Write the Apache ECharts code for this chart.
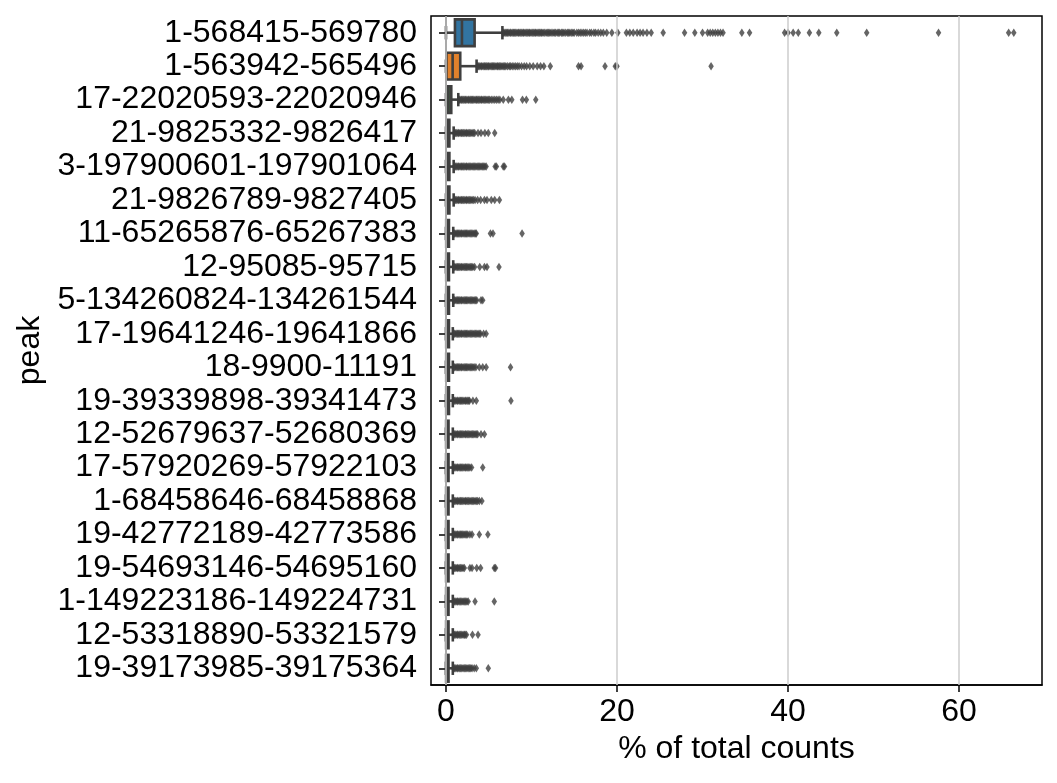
<!DOCTYPE html>
<html>
<head>
<meta charset="utf-8">
<script src="https://cdn.jsdelivr.net/npm/echarts@6/dist/echarts.min.js"></script>
<style>html,body{margin:0;padding:0;background:#fff}#c{width:1057px;height:783px}</style>
</head>
<body>
<div id="c"></div>
<script>
const categories = [
  '1-568415-569780','1-563942-565496','17-22020593-22020946','21-9825332-9826417',
  '3-197900601-197901064','21-9826789-9827405','11-65265876-65267383','12-95085-95715',
  '5-134260824-134261544','17-19641246-19641866','18-9900-11191','19-39339898-39341473',
  '12-52679637-52680369','17-57920269-57922103','1-68458646-68458868','19-42772189-42773586',
  '19-54693146-54695160','1-149223186-149224731','12-53318890-53321579','19-39173985-39175364'
];
// [min (whisker), q1, median, q3, max (whisker)]
const boxStats = [
  [0, 1.05, 1.87, 3.35, 6.6],
  [0, 0.05, 0.78, 1.67, 3.58],
  [0, 0.05, 0.3, 0.62, 1.44],
  [0, 0.05, 0.2, 0.4, 0.9],
  [0, 0.05, 0.2, 0.4, 0.9],
  [0, 0.05, 0.2, 0.4, 0.9],
  [0, 0.03, 0.15, 0.35, 0.85],
  [0, 0.03, 0.15, 0.35, 0.85],
  [0, 0.03, 0.15, 0.35, 0.85],
  [0, 0.03, 0.15, 0.35, 0.8],
  [0, 0.03, 0.15, 0.35, 0.8],
  [0, 0.03, 0.15, 0.35, 0.8],
  [0, 0.02, 0.1, 0.3, 0.8],
  [0, 0.02, 0.1, 0.3, 0.8],
  [0, 0.02, 0.1, 0.3, 0.8],
  [0, 0.02, 0.1, 0.3, 0.8],
  [0, 0.02, 0.1, 0.3, 0.8],
  [0, 0.02, 0.1, 0.3, 0.8],
  [0, 0.02, 0.1, 0.3, 0.8],
  [0, 0.02, 0.1, 0.3, 0.8]
];
const out0 = [6.7, 6.8, 6.95, 7.1, 7.2, 7.35, 7.5, 7.6, 7.75, 7.9, 8.0, 8.15, 8.3, 8.45, 8.55, 8.7, 8.85, 9.0, 9.1, 9.25, 9.4, 9.55, 9.7, 9.8, 9.95, 10.1, 10.25, 10.4, 10.5, 10.65, 10.8, 10.95, 11.1, 11.2, 11.35, 11.5, 11.7, 11.85, 12.0, 12.15, 12.3, 12.5, 12.65, 12.8, 13.0, 13.15, 13.3, 13.5, 13.65, 13.8, 14.0, 14.2, 14.35, 14.5, 14.7, 14.85, 15.0, 15.3, 15.5, 15.7, 15.9, 16.1, 16.3, 16.5, 16.8, 17.0, 17.3, 17.5, 17.8, 18.1, 18.4, 18.8, 19.4, 20.1, 21.1, 21.5, 21.9, 22.35, 22.7, 23.05, 23.5, 24.0, 25.4, 27.9, 29.1, 30.0, 30.6, 30.9, 31.2, 31.5, 31.8, 32.1, 32.4, 34.6, 35.5, 39.6, 40.0, 40.6, 41.2, 42.5, 43.6, 45.7, 49.2, 57.6, 65.8, 66.4];
const out1 = [3.7, 3.8, 3.95, 4.1, 4.2, 4.35, 4.5, 4.6, 4.75, 4.9, 5.0, 5.15, 5.3, 5.45, 5.55, 5.7, 5.85, 6.0, 6.1, 6.25, 6.4, 6.55, 6.7, 6.85, 7.0, 7.2, 7.4, 7.55, 7.75, 7.95, 8.15, 8.35, 8.55, 8.84, 9.15, 9.43, 9.8, 10.2, 10.67, 11.06, 11.45, 12.2, 15.5, 15.8, 18.6, 19.8, 20.0, 31.0];
const out2 = [1.55, 1.65, 1.8, 1.9, 2.05, 2.2, 2.3, 2.45, 2.6, 2.7, 2.85, 3.0, 3.1, 3.25, 3.4, 3.55, 3.65, 3.8, 3.95, 4.1, 4.2, 4.35, 4.5, 4.65, 4.8, 4.95, 5.1, 5.3, 5.5, 5.7, 5.9, 6.1, 6.3, 6.7, 7.3, 7.7, 8.95, 9.4, 10.5];
const out3 = [1.0, 1.1, 1.25, 1.4, 1.5, 1.65, 1.8, 1.9, 2.05, 2.2, 2.35, 2.45, 2.6, 2.75, 2.9, 3.05, 3.2, 3.35, 3.75, 4.1, 4.55, 4.95, 5.7];
const out4 = [1.0, 1.1, 1.25, 1.4, 1.5, 1.65, 1.8, 1.9, 2.05, 2.2, 2.35, 2.45, 2.6, 2.75, 2.9, 3.05, 3.2, 3.35, 3.5, 3.65, 3.8, 3.95, 4.1, 4.25, 4.4, 4.55, 4.7, 5.75, 5.9, 6.7, 6.85];
const out5 = [1.0, 1.1, 1.25, 1.4, 1.5, 1.65, 1.8, 1.9, 2.05, 2.2, 2.35, 2.45, 2.6, 2.75, 2.9, 3.05, 3.2, 3.4, 3.7, 4.05, 4.5, 4.8, 5.3, 5.7, 6.25];
const out6 = [0.95, 1.05, 1.2, 1.35, 1.45, 1.6, 1.75, 1.85, 2.0, 2.15, 2.3, 2.4, 2.55, 2.7, 2.85, 3.0, 3.15, 3.3, 3.45, 3.55, 5.2, 5.5, 8.9];
const out7 = [0.95, 1.05, 1.2, 1.35, 1.45, 1.6, 1.75, 1.85, 2.0, 2.15, 2.3, 2.4, 2.55, 2.7, 2.85, 3.0, 3.15, 3.35, 3.95, 4.5, 4.8, 6.2];
const out8 = [0.95, 1.05, 1.2, 1.35, 1.45, 1.6, 1.75, 1.85, 2.0, 2.15, 2.3, 2.4, 2.55, 2.7, 2.85, 3.0, 3.15, 3.3, 3.45, 3.6, 4.1, 4.3];
const out9 = [0.95, 1.05, 1.2, 1.35, 1.45, 1.6, 1.75, 1.85, 2.0, 2.15, 2.3, 2.4, 2.55, 2.7, 2.85, 3.0, 3.15, 3.3, 3.45, 3.6, 3.75, 3.9, 4.05, 4.4, 4.7];
const out10 = [0.95, 1.05, 1.2, 1.35, 1.45, 1.6, 1.75, 1.85, 2.0, 2.15, 2.3, 2.4, 2.55, 2.7, 2.85, 3.0, 3.15, 3.3, 3.5, 3.9, 4.3, 4.7, 7.55];
const out11 = [0.9, 1.0, 1.15, 1.3, 1.4, 1.55, 1.7, 1.8, 1.95, 2.1, 2.25, 2.35, 2.5, 2.65, 2.75, 3.15, 3.55, 7.6];
const out12 = [0.9, 1.0, 1.15, 1.3, 1.4, 1.55, 1.7, 1.8, 1.95, 2.1, 2.25, 2.35, 2.5, 2.65, 2.8, 2.95, 3.1, 3.25, 3.4, 3.55, 3.7, 4.1, 4.5];
const out13 = [0.9, 1.0, 1.15, 1.3, 1.4, 1.55, 1.7, 1.8, 1.95, 2.1, 2.25, 2.35, 2.5, 2.65, 2.8, 3.0, 4.3];
const out14 = [0.9, 1.0, 1.15, 1.3, 1.4, 1.55, 1.7, 1.8, 1.95, 2.1, 2.25, 2.35, 2.5, 2.65, 2.8, 2.95, 3.1, 3.25, 3.4, 3.55, 3.7, 3.9, 4.2];
const out15 = [0.9, 1.0, 1.15, 1.3, 1.4, 1.55, 1.7, 1.8, 1.95, 2.1, 2.25, 2.4, 2.55, 2.8, 3.05, 3.9, 4.9];
const out16 = [0.9, 1.0, 1.15, 1.3, 1.4, 1.55, 1.7, 1.85, 2.0, 2.15, 2.8, 3.05, 3.6, 4.05, 5.65, 5.8];
const out17 = [0.9, 1.0, 1.15, 1.3, 1.4, 1.55, 1.7, 1.85, 2.0, 2.15, 2.3, 2.45, 2.6, 3.4, 5.65];
const out18 = [0.9, 1.0, 1.15, 1.3, 1.4, 1.55, 1.7, 1.85, 2.0, 2.15, 2.25, 2.4, 3.1, 3.75];
const out19 = [0.9, 1.0, 1.15, 1.3, 1.4, 1.55, 1.7, 1.85, 2.0, 2.15, 2.3, 2.45, 2.6, 2.75, 2.9, 3.05, 3.3, 3.55, 4.95];
const outliers = [out0, out1, out2, out3, out4, out5, out6, out7, out8, out9, out10, out11, out12, out13, out14, out15, out16, out17, out18, out19];
const xTicks = [0, 20, 40, 60];
const palette = ['#3274a1','#e1812c','#3a923a','#c03d3e','#9372b2','#845b53','#d684bd','#7f7f7f','#a9aa35','#2eabb8'];

const LINE = '#3f3f3f';
const FONT = 'Liberation Sans, Arial, sans-serif';
const FS = 32;

const boxData = boxStats.map((s, i) => [i].concat(s));
const flierData = [];
outliers.forEach((arr, i) => arr.forEach(v => flierData.push([v, i])));

const chart = echarts.init(document.getElementById('c'), null, {renderer: 'canvas'});
chart.setOption({
  animation: false,
  backgroundColor: '#ffffff',
  grid: {left: 431, right: 15, top: 16, bottom: 98, show: true, borderColor: '#000', borderWidth: 1.5, backgroundColor: 'transparent'},
  xAxis: {
    type: 'value', min: -1.75, max: 69.7,
    name: '% of total counts', nameLocation: 'middle', nameGap: 48,
    nameTextStyle: {fontFamily: FONT, fontSize: FS, color: '#000'},
    axisLine: {show: true, lineStyle: {color: '#000', width: 1.5}},
    axisTick: {show: true, length: 7, lineStyle: {color: '#000', width: 1.5}, customValues: xTicks},
    axisLabel: {fontFamily: FONT, fontSize: FS, color: '#000', margin: 11, customValues: xTicks},
    splitLine: {show: false}
  },
  yAxis: {
    type: 'category', data: categories, inverse: true,
    name: 'peak', nameLocation: 'middle', nameGap: 383, nameRotate: 90,
    nameTextStyle: {fontFamily: FONT, fontSize: FS, color: '#000'},
    axisLine: {show: true, lineStyle: {color: '#000', width: 1.5}},
    axisTick: {show: true, alignWithLabel: true, interval: 0, length: 7, lineStyle: {color: '#000', width: 1.5}},
    axisLabel: {fontFamily: FONT, fontSize: FS, color: '#000', margin: 14, interval: 0, hideOverlap: false},
    splitLine: {show: false}
  },
  series: [
    {
      type: 'scatter', data: [], z: 1, silent: true,
      markLine: {
        silent: true, symbol: 'none', label: {show: false},
        lineStyle: {color: '#cccccc', width: 1.5, type: 'solid'},
        data: xTicks.map(v => ({xAxis: v}))
      }
    },
    {
      type: 'custom', z: 2, data: boxData, encode: {x: [1, 2, 3, 4, 5], y: 0},
      renderItem: function (params, api) {
        const i = api.value(0);
        const mn = api.value(1), q1 = api.value(2), md = api.value(3), q3 = api.value(4), mx = api.value(5);
        const band = api.size([0, 1])[1];
        const h = band * 0.8, ch = h / 4;
        const y = api.coord([0, i])[1];
        const px = v => api.coord([v, i])[0];
        const ls = {stroke: LINE, lineWidth: 2.6};
        return {
          type: 'group',
          children: [
            {type: 'line', shape: {x1: px(mn), y1: y, x2: px(q1), y2: y}, style: ls},
            {type: 'line', shape: {x1: px(q3), y1: y, x2: px(mx), y2: y}, style: ls},
            {type: 'line', shape: {x1: px(mn), y1: y - ch, x2: px(mn), y2: y + ch}, style: ls},
            {type: 'line', shape: {x1: px(mx), y1: y - ch, x2: px(mx), y2: y + ch}, style: ls},
            {type: 'rect', shape: {x: px(q1), y: y - h / 2, width: px(q3) - px(q1), height: h},
              style: {fill: palette[i % palette.length], stroke: LINE, lineWidth: 2.6}},
            {type: 'line', shape: {x1: px(md), y1: y - h / 2, x2: px(md), y2: y + h / 2}, style: ls}
          ]
        };
      }
    },
    {
      type: 'scatter', z: 3, data: flierData, symbol: 'diamond', symbolSize: [5.5, 8.5],
      itemStyle: {color: LINE}, silent: true
    }
  ]
});
</script>
</body>
</html>
